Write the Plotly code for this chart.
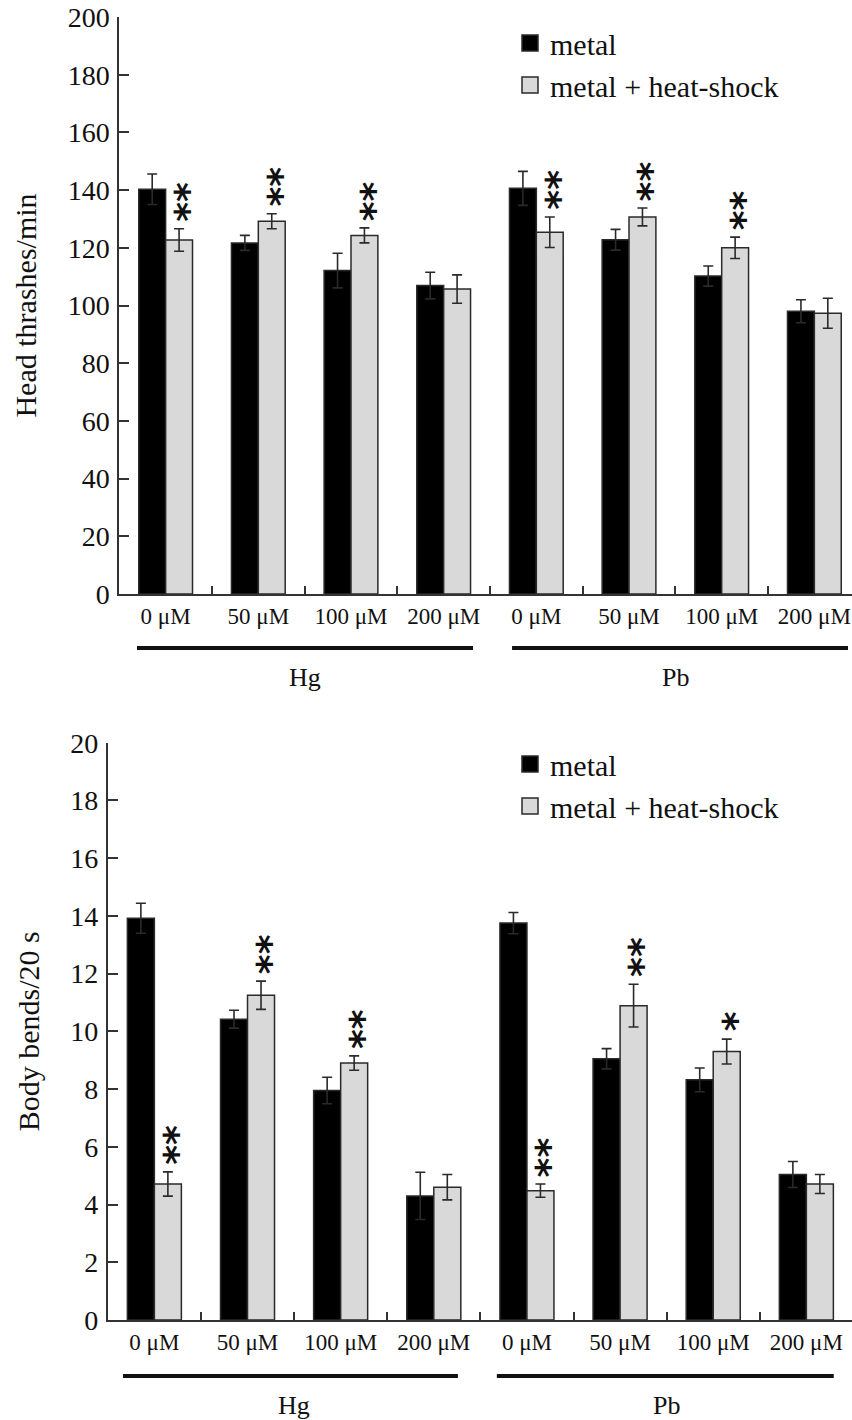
import plotly.graph_objects as go

# ---------------- data ----------------
categories = ["0 μM", "50 μM", "100 μM", "200 μM", "0 μM", "50 μM", "100 μM", "200 μM"]
groups = ["Hg", "Pb"]
series_names = ["metal", "metal + heat-shock"]

head_metal = [140.3, 121.7, 112.1, 106.9, 140.6, 122.8, 110.2, 98.0]
head_metal_err = [5.3, 2.6, 6.0, 4.6, 5.9, 3.6, 3.5, 4.0]
head_hs = [122.7, 129.2, 124.3, 105.7, 125.4, 130.7, 120.0, 97.3]
head_hs_err = [3.9, 2.6, 2.6, 4.9, 5.3, 3.1, 3.7, 5.2]
head_stars = [2, 2, 2, 0, 2, 2, 2, 0]

body_metal = [13.92, 10.42, 7.95, 4.30, 13.75, 9.05, 8.32, 5.04]
body_metal_err = [0.52, 0.31, 0.46, 0.82, 0.37, 0.35, 0.41, 0.45]
body_hs = [4.71, 11.25, 8.90, 4.60, 4.48, 10.89, 9.30, 4.71]
body_hs_err = [0.42, 0.49, 0.25, 0.44, 0.23, 0.74, 0.43, 0.33]
body_stars = [2, 2, 2, 0, 2, 2, 1, 0]

head_ticks = [0, 20, 40, 60, 80, 100, 120, 140, 160, 180, 200]
body_ticks = [0, 2, 4, 6, 8, 10, 12, 14, 16, 18, 20]

# ---------------- style ----------------
W, H = 852, 1420
SERIF = "Liberation Serif"
BLACK = "#000000"
GREY = "#d9d9d9"
EDGE = "#2a2a2a"
AXC = "#333333"

x = list(range(len(categories)))
BAR_W = 0.29

fig = go.Figure()


def add_panel(xa, ya, metal, metal_err, hs, hs_err):
    fig.add_trace(go.Bar(
        x=x, y=metal, xaxis=xa, yaxis=ya, name=series_names[0], showlegend=False,
        offsetgroup="a", marker=dict(color=BLACK, line=dict(color=EDGE, width=1.5)),
        error_y=dict(type="data", array=metal_err, color=EDGE, thickness=1.6, width=5),
    ))
    fig.add_trace(go.Bar(
        x=x, y=hs, xaxis=xa, yaxis=ya, name=series_names[1], showlegend=False,
        offsetgroup="b", marker=dict(color=GREY, line=dict(color=EDGE, width=1.5)),
        error_y=dict(type="data", array=hs_err, color=EDGE, thickness=1.6, width=5),
    ))


add_panel("x", "y", head_metal, head_metal_err, head_hs, head_hs_err)
add_panel("x2", "y2", body_metal, body_metal_err, body_hs, body_hs_err)

# legend entries (one legend per panel)
for lg, xa, ya in (("legend", "x", "y"), ("legend2", "x2", "y2")):
    for name, col in zip(series_names, (BLACK, GREY)):
        fig.add_trace(go.Scatter(
            x=[None], y=[None], xaxis=xa, yaxis=ya, mode="markers", name=name,
            legend=lg, showlegend=True,
            marker=dict(symbol="square", size=16, color=col,
                        line=dict(color=EDGE, width=1.5)),
        ))

# ---------------- axes ----------------
def px_x(p):
    return p / W


def px_y(p):
    return (H - p) / H


top_x0 = 119.3
bot_x0 = 107.8

common_x = dict(
    tickmode="array", tickvals=x, ticktext=categories, ticks="", showgrid=False,
    zeroline=False, showline=True, linecolor=AXC, linewidth=2, automargin=False,
    tickfont=dict(family=SERIF, size=23, color="#111"),
    ticklabelstandoff=0,
    minor=dict(tickmode="array", tickvals=[i + 0.5 for i in x[:-1]], ticks="inside",
               ticklen=8, tickwidth=2, tickcolor=AXC, showgrid=False),
)
common_y = dict(
    showgrid=False, zeroline=False, showline=True, linecolor=AXC, linewidth=2,
    ticks="inside", ticklen=10, tickwidth=2, tickcolor=AXC, automargin=False,
    tickfont=dict(family=SERIF, size=28, color="#111"), ticklabelstandoff=2,
    title=dict(font=dict(family=SERIF, size=30, color="#111"), standoff=22),
)

fig.update_layout(
    template="none",
    width=W, height=H, margin=dict(l=0, r=0, t=0, b=0, autoexpand=False),
    paper_bgcolor="white", plot_bgcolor="white",
    barmode="group", bargap=0.42, bargroupgap=0,
    xaxis=dict(common_x, domain=[px_x(top_x0), 1], anchor="y",
               range=[-0.5, 7.5 - (860.7 - 852) / 92.67]),
    yaxis=dict(common_y, domain=[px_y(594), px_y(17)], anchor="x", range=[0, 200],
               tickvals=head_ticks, title_text="Head thrashes/min"),
    xaxis2=dict(common_x, domain=[px_x(bot_x0), 1], anchor="y2", range=[-0.5, 7.49]),
    yaxis2=dict(common_y, domain=[px_y(1320), px_y(742.7)], anchor="x2", range=[0, 20],
                tickvals=body_ticks, title_text="Body bends/20 s"),
    legend=dict(x=px_x(510), y=px_y(17), xanchor="left", yanchor="top",
                font=dict(family=SERIF, size=30, color="#111"),
                bgcolor="rgba(0,0,0,0)", tracegroupgap=0),
    legend2=dict(x=px_x(510), y=px_y(738), xanchor="left", yanchor="top",
                 font=dict(family=SERIF, size=30, color="#111"),
                 bgcolor="rgba(0,0,0,0)", tracegroupgap=0),
    showlegend=True,
)

# ---------------- significance stars ----------------
# stacked asterisks drawn as one rotated text ("**" turned 90 degrees)
annotations = []
STAR_SIZE = 38
for xa, ya, vals, errs, stars in (("x", "y", head_hs, head_hs_err, head_stars),
                                  ("x2", "y2", body_hs, body_hs_err, body_stars)):
    for i, (v, e, n) in enumerate(zip(vals, errs, stars)):
        if n == 0:
            continue
        annotations.append(dict(
            x=i + BAR_W / 2, y=v + e, xref=xa, yref=ya, text="<b>" + "*" * n + "</b>",
            showarrow=False, xanchor="center", yanchor="middle", textangle=-90,
            xshift=9, yshift=8 + 9.5 * n,
            font=dict(family="DejaVu Sans", size=STAR_SIZE, color="#111"),
        ))

# ---------------- group brackets ----------------
shapes = []
group_spans_top = [(-0.309, 3.317), (3.738, 7.363)]
group_spans_bot = [(-0.337, 3.259), (3.677, 7.294)]
for xa, spans, ly, ty in (("x", group_spans_top, 648, 677), ("x2", group_spans_bot, 1376, 1405)):
    for (a, b), gname, cx in zip(spans, groups, (1.5, 5.5)):
        shapes.append(dict(type="line", xref=xa, yref="paper", x0=a, x1=b,
                           y0=px_y(ly), y1=px_y(ly), line=dict(color="#111", width=4)))
        annotations.append(dict(x=cx, y=px_y(ty), xref=xa, yref="paper", text=gname,
                                showarrow=False, xanchor="center", yanchor="middle",
                                font=dict(family=SERIF, size=26, color="#111")))

fig.update_layout(annotations=annotations, shapes=shapes)

fig.write_html("out.html")
